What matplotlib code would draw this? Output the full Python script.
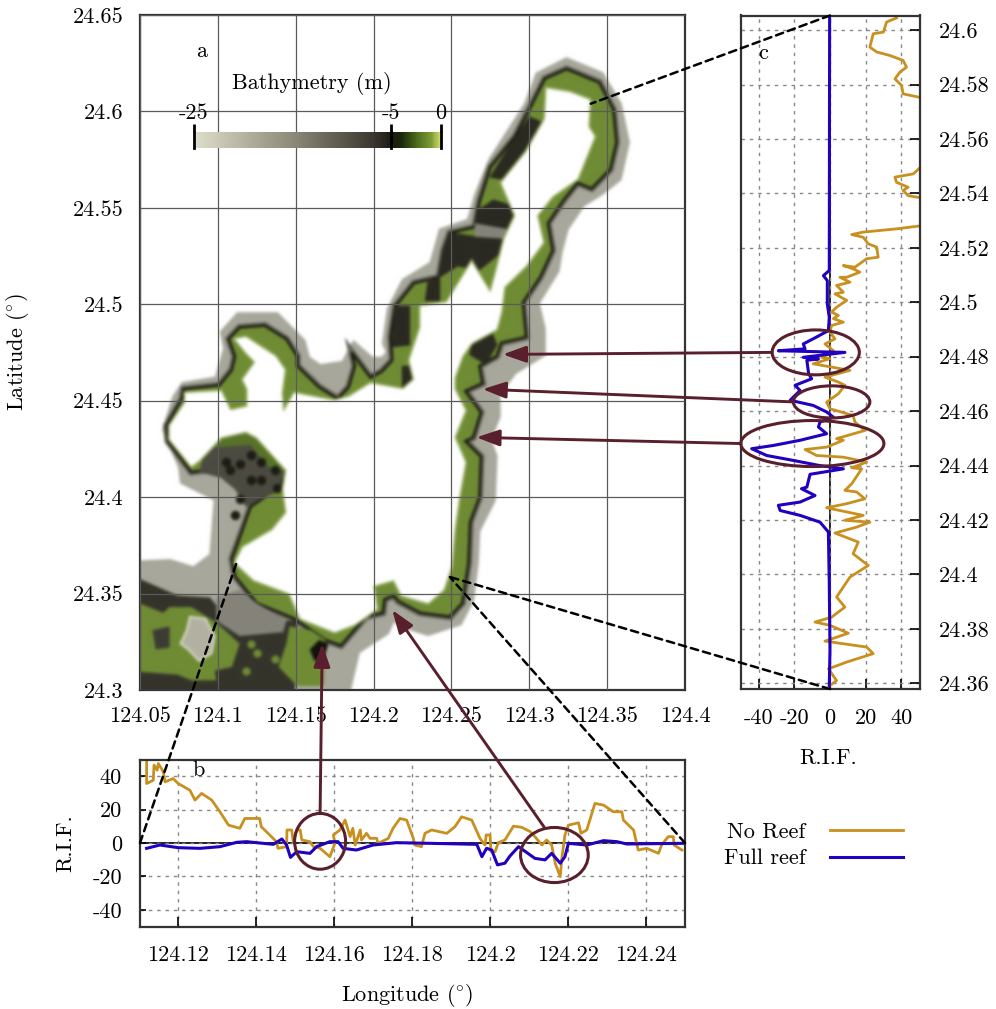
import matplotlib
matplotlib.use("Agg")
import matplotlib.pyplot as plt
import numpy as np
from matplotlib.backends.backend_agg import FigureCanvasAgg
from matplotlib.colors import LinearSegmentedColormap
from matplotlib.figure import Figure
from matplotlib.patches import ConnectionPatch, Ellipse

plt.rcParams['font.family'] = ['cmr10', 'DejaVu Serif']
plt.rcParams['mathtext.fontset'] = 'cm'
plt.rcParams['axes.unicode_minus'] = False

# Map outlines (lon, lat)
halo_lon = [124.324, 124.345, 124.356, 124.361, 124.356, 124.345, 124.333, 124.322, 124.318, 124.316, 124.303, 124.307, 124.307, 124.289, 124.278, 124.278, 124.272, 124.276, 124.275, 124.265, 124.264, 124.261, 124.254, 124.235, 124.219, 124.212, 124.207, 124.188, 124.179, 124.040, 124.040, 124.069, 124.085, 124.098, 124.101, 124.079, 124.078, 124.068, 124.074, 124.079, 124.101, 124.107, 124.105, 124.114, 124.137, 124.153, 124.156, 124.165, 124.182, 124.188, 124.198, 124.207, 124.212, 124.209, 124.212, 124.221, 124.239, 124.245, 124.263, 124.268, 124.277, 124.300, 124.307]
halo_lat = [24.625, 24.618, 24.603, 24.584, 24.566, 24.559, 24.553, 24.540, 24.528, 24.518, 24.501, 24.487, 24.475, 24.466, 24.454, 24.442, 24.430, 24.421, 24.399, 24.383, 24.366, 24.347, 24.336, 24.331, 24.335, 24.340, 24.331, 24.321, 24.290, 24.290, 24.364, 24.365, 24.361, 24.369, 24.400, 24.409, 24.416, 24.435, 24.451, 24.457, 24.460, 24.477, 24.485, 24.493, 24.493, 24.480, 24.471, 24.466, 24.468, 24.477, 24.470, 24.470, 24.475, 24.480, 24.497, 24.511, 24.520, 24.537, 24.542, 24.556, 24.574, 24.603, 24.618]

reef_lon = [124.324, 124.345, 124.354, 124.356, 124.352, 124.340, 124.331, 124.322, 124.312, 124.315, 124.307, 124.296, 124.298, 124.282, 124.279, 124.268, 124.270, 124.259, 124.269, 124.264, 124.259, 124.269, 124.268, 124.262, 124.261, 124.257, 124.249, 124.230, 124.216, 124.213, 124.207, 124.206, 124.195, 124.179, 124.169, 124.149, 124.125, 124.111, 124.109, 124.114, 124.121, 124.130, 124.121, 124.083, 124.068, 124.067, 124.077, 124.078, 124.101, 124.109, 124.111, 124.107, 124.114, 124.130, 124.144, 124.151, 124.151, 124.165, 124.177, 124.184, 124.188, 124.186, 124.198, 124.205, 124.212, 124.211, 124.214, 124.226, 124.242, 124.245, 124.249, 124.265, 124.268, 124.275, 124.291, 124.300, 124.310]
reef_lat = [24.622, 24.615, 24.601, 24.584, 24.570, 24.560, 24.563, 24.554, 24.542, 24.528, 24.514, 24.501, 24.483, 24.480, 24.473, 24.468, 24.459, 24.455, 24.444, 24.431, 24.429, 24.421, 24.400, 24.387, 24.366, 24.345, 24.338, 24.340, 24.346, 24.349, 24.347, 24.340, 24.338, 24.323, 24.326, 24.337, 24.345, 24.359, 24.368, 24.379, 24.395, 24.400, 24.417, 24.413, 24.429, 24.437, 24.451, 24.456, 24.458, 24.466, 24.473, 24.482, 24.488, 24.489, 24.482, 24.473, 24.468, 24.457, 24.451, 24.457, 24.468, 24.475, 24.462, 24.465, 24.471, 24.483, 24.499, 24.511, 24.514, 24.528, 24.537, 24.540, 24.553, 24.571, 24.587, 24.601, 24.617]

land_lon = [124.311, 124.326, 124.339, 124.338, 124.342, 124.336, 124.331, 124.315, 124.305, 124.309, 124.298, 124.284, 124.282, 124.279, 124.263, 124.257, 124.252, 124.252, 124.259, 124.252, 124.259, 124.255, 124.252, 124.250, 124.245, 124.235, 124.218, 124.213, 124.200, 124.202, 124.188, 124.175, 124.153, 124.146, 124.123, 124.111, 124.116, 124.135, 124.144, 124.142, 124.144, 124.125, 124.118, 124.102, 124.088, 124.083, 124.069, 124.069, 124.079, 124.079, 124.102, 124.108, 124.119, 124.119, 124.116, 124.124, 124.118, 124.111, 124.118, 124.137, 124.143, 124.141, 124.142, 124.149, 124.175, 124.184, 124.198, 124.219, 124.226, 124.223, 124.230, 124.230, 124.247, 124.263, 124.275, 124.279, 124.284, 124.291, 124.282, 124.298, 124.310]
land_lat = [24.612, 24.610, 24.606, 24.592, 24.587, 24.575, 24.565, 24.556, 24.546, 24.532, 24.520, 24.509, 24.496, 24.487, 24.480, 24.473, 24.462, 24.456, 24.445, 24.431, 24.418, 24.400, 24.383, 24.364, 24.352, 24.345, 24.349, 24.357, 24.354, 24.342, 24.334, 24.330, 24.337, 24.350, 24.357, 24.366, 24.374, 24.383, 24.392, 24.404, 24.414, 24.431, 24.434, 24.431, 24.419, 24.416, 24.430, 24.437, 24.449, 24.454, 24.455, 24.445, 24.447, 24.456, 24.461, 24.470, 24.475, 24.482, 24.483, 24.473, 24.466, 24.454, 24.444, 24.454, 24.450, 24.452, 24.459, 24.456, 24.461, 24.471, 24.488, 24.499, 24.501, 24.522, 24.506, 24.518, 24.534, 24.546, 24.563, 24.579, 24.596]

# Deep patches on the reef
deep_patches = [
    ([124.300, 124.309, 124.300, 124.291, 124.282, 124.275, 124.286], [24.597, 24.594, 24.584, 24.571, 24.565, 24.566, 24.580]),
    ([124.268, 124.277, 124.289, 124.293, 124.286, 124.275, 124.265], [24.549, 24.554, 24.551, 24.542, 24.539, 24.540, 24.542]),
    ([124.249, 124.265, 124.284, 124.282, 124.268, 124.254, 124.242, 124.245], [24.537, 24.535, 24.534, 24.527, 24.518, 24.520, 24.514, 24.528]),
    ([124.235, 124.242, 124.242, 124.233], [24.513, 24.513, 24.502, 24.502]),
    ([124.214, 124.223, 124.223, 124.212], [24.499, 24.499, 24.479, 24.478]),
    ([124.218, 124.225, 124.225, 124.218], [24.468, 24.468, 24.456, 24.456]),
    ([124.263, 124.275, 124.279, 124.272, 124.262], [24.480, 24.487, 24.479, 24.469, 24.474]),
]
shallow_gap_lon = [124.265, 124.286, 124.284, 124.265]
shallow_gap_lat = [24.542, 24.539, 24.534, 24.535]

tongue_lon = [124.088, 124.092, 124.102, 124.123, 124.132, 124.144, 124.143, 124.130, 124.118, 124.111, 124.102]
tongue_lat = [24.413, 24.426, 24.431, 24.433, 24.421, 24.413, 24.404, 24.400, 24.395, 24.404, 24.410]
rim_lon = [124.092, 124.102, 124.123, 124.144, 124.144, 124.132, 124.121, 124.102]
rim_lat = [24.426, 24.431, 24.433, 24.414, 24.413, 24.416, 24.427, 24.426]
blob_lon = [124.121, 124.128, 124.114, 124.108, 124.137, 124.128, 124.143, 124.121, 124.105, 124.114, 124.111, 124.138]
blob_lat = [24.422, 24.418, 24.417, 24.414, 24.414, 24.409, 24.408, 24.409, 24.418, 24.399, 24.391, 24.405]

sw_dark_lon = [124.040, 124.060, 124.074, 124.095, 124.105, 124.125, 124.142, 124.151, 124.149, 124.040]
sw_dark_lat = [24.361, 24.354, 24.349, 24.348, 24.338, 24.340, 24.336, 24.336, 24.290, 24.290]
sw_mid_lon = [124.099, 124.114, 124.125, 124.144, 124.142, 124.114, 124.099]
sw_mid_lat = [24.348, 24.352, 24.345, 24.336, 24.330, 24.328, 24.336]
sw_green_lon = [124.040, 124.065, 124.069, 124.083, 124.099, 124.114, 124.109, 124.098, 124.099, 124.083, 124.074, 124.040]
sw_green_lat = [24.348, 24.340, 24.343, 24.343, 24.335, 24.324, 24.312, 24.310, 24.305, 24.305, 24.308, 24.310]
sw_hole_lon = [124.058, 124.069, 124.069, 124.060]
sw_hole_lat = [24.331, 24.333, 24.322, 24.321]
islet_lon = [124.082, 124.092, 124.098, 124.096, 124.088, 124.081, 124.076, 124.080]
islet_lat = [24.338, 24.337, 24.328, 24.319, 24.315, 24.321, 24.324, 24.331]
se_green_lon = [124.146, 124.160, 124.169, 124.168, 124.151, 124.139, 124.144]
se_green_lat = [24.333, 24.331, 24.326, 24.302, 24.302, 24.312, 24.324]
se_hole_lon = [124.159, 124.165, 124.171, 124.168, 124.162]
se_hole_lat = [24.321, 24.326, 24.324, 24.316, 24.315]
speck_lon = [124.125, 124.137, 124.121, 124.118]
speck_lat = [24.319, 24.316, 24.324, 24.310]

# Colour bar
cbar_depths = [-25, -15, -7, -5, -4, -2.5, -1, 0]
cbar_colors = ['#dedecb', '#8b8978', '#3c3930', '#1c1a14', '#1a2a0a', '#4a6a1c', '#7d9c35', '#d4e36d']
cbar_ticks = [-25, -5, 0]

# Panel b: R.I.F. along longitude
b_no_lon = [124.1119, 124.1119, 124.1136, 124.1138, 124.1146, 124.1149, 124.1162, 124.1166, 124.1187, 124.120, 124.123, 124.1243, 124.126, 124.1286, 124.1307, 124.1329, 124.1358, 124.1371, 124.1409, 124.1413, 124.1452, 124.1456, 124.1478, 124.1479, 124.1491, 124.1495, 124.1504, 124.1513, 124.1517, 124.1538, 124.1547, 124.1564, 124.1589, 124.1602, 124.1598, 124.1615, 124.1628, 124.1641, 124.1648, 124.1654, 124.1667, 124.167, 124.1683, 124.1692, 124.1709, 124.1713, 124.1739, 124.1751, 124.1769, 124.1786, 124.1803, 124.1807, 124.1824, 124.1833, 124.185, 124.1889, 124.191, 124.1927, 124.1953, 124.1974, 124.1987, 124.199, 124.200, 124.2002, 124.2013, 124.2021, 124.2038, 124.206, 124.2081, 124.2103, 124.2115, 124.2133, 124.2145, 124.2158, 124.2167, 124.218, 124.2184, 124.2192, 124.2201, 124.2227, 124.2233, 124.2248, 124.2269, 124.2291, 124.2316, 124.2338, 124.2342, 124.2368, 124.238, 124.2402, 124.2432, 124.244, 124.2457, 124.247, 124.2472, 124.2492]
b_no_rif = [52, 35.6, 37.6, 46.6, 43.6, 47.6, 42.6, 36.6, 38.6, 35.6, 31.6, 25.7, 29.7, 25.7, 18.7, 10.7, 8.8, 14.7, 14.7, 9.8, 0.8, -3.2, -2.2, 7.8, 7.8, 0.8, 7.8, 7.8, 1.8, 0.8, -2.2, -3.2, -8.2, -0.2, 4.8, 7.8, 13.7, 3.8, 8.8, -1.2, 7.8, 1.8, 5.8, 2.8, 2.8, -0.2, 2.8, 8.8, 14.7, 13.7, 2.8, -1.2, -2.2, 5.8, 7.8, 5.8, 9.8, 15.7, 13.7, 2.8, -1.2, 4.8, 4.8, -4.2, -5.2, 0.2, 1.8, 10.1, 9.4, 6.8, 3.8, -1.2, 1.8, -1.2, -12.1, -20.1, -9.2, 4.8, 10.7, 12.1, 5.8, 7.8, 23.7, 22.7, 18.7, 18.7, 13.7, 7.8, -4.2, -3.2, -6.2, -1.2, 3.8, 3.8, -1.2, -4.2]
b_full_lon = [124.1119, 124.1153, 124.120, 124.1256, 124.1307, 124.135, 124.1375, 124.1444, 124.1466, 124.1478, 124.1488, 124.1504, 124.1538, 124.1555, 124.1589, 124.161, 124.1623, 124.1657, 124.170, 124.176, 124.1846, 124.1966, 124.1979, 124.1991, 124.2004, 124.2019, 124.2038, 124.2051, 124.2073, 124.2115, 124.2141, 124.2158, 124.218, 124.2192, 124.2201, 124.2248, 124.2291, 124.2325, 124.2351, 124.2496]
b_full_rif = [-3.2, -1.2, -2.8, -3.2, -2.2, 0.4, 0.8, -0.8, 2.4, -1.2, -8.6, -5.2, -6.2, -2.2, 0.8, 0.8, -3.2, -4.2, -1.2, 0.2, -0.2, -0.8, -8.2, -3.2, -4.2, -13.1, -12.1, -7.8, -2.2, -9.2, -10.1, -6.2, -12.1, -8.2, -0.2, -1.2, 1.4, 0.8, -0.6, -0.2]

# Panel c: R.I.F. along latitude
c_no_rif = [37.4, 31.8, 30, 24.3, 22.4, 26.2, 33.7, 41.1, 43, 39.3, 36.5, 40.2, 41.1, 52, 52, 46.8, 36.5, 37.4, 43.9, 41.1, 43.9, 52, 52, 37.4, 18.7, 12.2, 18.7, 21.5, 26.2, 27.1, 20.6, 14, 7.5, 13, 16.8, 9.4, 5.6, 11.2, 3.7, 7.5, 2.8, 9.4, 3.7, 0.9, 4.7, 1.9, 7.5, 0.9, 0, 2.8, -2.8, 1.9, -4.7, 0, -9.4, 11.2, -2.8, 4.7, 8.4, 4.7, -1.9, 0, 13, 14, 19.6, 3.7, 7.5, -1.9, -14, -7.5, 7.5, 20.6, 12.2, 17.8, 12.2, 8.4, 15, 19.6, 9.4, -1.9, 18.7, 8.4, 22.4, 15, 2.8, 15.9, 13, 21.5, 11.2, 3.7, 8.4, 0.9, -8.4, 0, 10.3, -2.8, 20.6, 24.3, 9.4, -0.9, 3.7, 0]
c_no_lat = [24.6045, 24.603, 24.5993, 24.5987, 24.5938, 24.592, 24.5907, 24.5889, 24.5864, 24.5846, 24.5821, 24.5797, 24.5766, 24.5751, 24.5503, 24.5472, 24.546, 24.5441, 24.5423, 24.5411, 24.5392, 24.5383, 24.5282, 24.527, 24.5258, 24.5249, 24.5239, 24.5215, 24.5203, 24.5166, 24.516, 24.5129, 24.5135, 24.5123, 24.5111, 24.5092, 24.5092, 24.5074, 24.5062, 24.5037, 24.5031, 24.5007, 24.4982, 24.4964, 24.4952, 24.494, 24.4927, 24.4915, 24.489, 24.4866, 24.4847, 24.4822, 24.4798, 24.4793, 24.4774, 24.475, 24.4725, 24.4707, 24.4695, 24.4664, 24.4633, 24.4609, 24.4584, 24.456, 24.4529, 24.4499, 24.4493, 24.4468, 24.4459, 24.4437, 24.4431, 24.4413, 24.4392, 24.4388, 24.4333, 24.4309, 24.4303, 24.4278, 24.426, 24.4245, 24.4217, 24.4199, 24.4192, 24.4174, 24.4152, 24.4119, 24.4076, 24.4033, 24.399, 24.3917, 24.388, 24.3843, 24.3825, 24.3813, 24.3784, 24.3755, 24.3733, 24.3709, 24.3678, 24.3653, 24.361, 24.3592]
c_full_rif = [-0.2, -0.4, -3.7, -1.5, -1.5, -0.4, -0.9, -9.4, -15, -14, -29, 8.4, -15, -6.5, -13, -12, -10.3, -19.6, -16.8, -22.4, -9.4, -1.9, 1.9, -5.6, -6.5, -1.9, -16.8, -31.8, -44, -35.5, -20.6, -6.5, 7.5, -11.2, -13, -16, -8.4, -16.8, -29, -28, -16.8, -5.6, -0.9, -0.4, 0, -0.4]
c_full_lat = [24.6054, 24.5117, 24.5098, 24.508, 24.4994, 24.4945, 24.4896, 24.4866, 24.4847, 24.4829, 24.4822, 24.4816, 24.4798, 24.4792, 24.4787, 24.4738, 24.4719, 24.4695, 24.4676, 24.464, 24.4621, 24.4597, 24.4578, 24.456, 24.4542, 24.4517, 24.4493, 24.4474, 24.4462, 24.4437, 24.4419, 24.4401, 24.4388, 24.4368, 24.4321, 24.4315, 24.429, 24.4266, 24.4254, 24.4235, 24.4217, 24.4192, 24.4156, 24.3966, 24.3721, 24.3592]

map_xticks = [124.05, 124.1, 124.15, 124.2, 124.25, 124.3, 124.35, 124.4]
map_yticks = [24.3, 24.35, 24.4, 24.45, 24.5, 24.55, 24.6, 24.65]
b_xticks = [124.12, 124.14, 124.16, 124.18, 124.2, 124.22, 124.24]
rif_ticks = [-40, -20, 0, 20, 40]
c_yticks = [24.36, 24.38, 24.4, 24.42, 24.44, 24.46, 24.48, 24.5, 24.52, 24.54, 24.56, 24.58, 24.6]

ORANGE = '#c8901e'
BLUE = '#2200c0'
MAROON = '#5a1f2c'
GREEN = '#6f8c35'
FS = 16
W, H = 996, 1009


def frac(left, top, right, bottom):
    return [left / W, 1 - bottom / H, (right - left) / W, (bottom - top) / H]


def soften(rgba, passes=2):
    # small binomial blur, the source map is a soft raster
    taps = [(-2, 1 / 16), (-1, 4 / 16), (0, 6 / 16), (1, 4 / 16), (2, 1 / 16)]
    out = rgba.astype(float)
    for _ in range(passes):
        for axis in (0, 1):
            pad = [(2, 2) if i == axis else (0, 0) for i in range(3)]
            wide = np.pad(out, pad, mode='edge')
            out = sum(k * np.roll(wide, o, axis=axis) for o, k in taps)
            out = out[2:-2, :] if axis == 0 else out[:, 2:-2]
    return out


def draw_map():
    # polygons on their own canvas, same lon/lat frame as the map axes
    mf = Figure(figsize=(5.45, 6.75), dpi=100)
    canvas = FigureCanvasAgg(mf)
    m = mf.add_axes([0, 0, 1, 1])
    m.fill(halo_lon, halo_lat, facecolor='#a8a79b', edgecolor='#a8a79b', lw=8)
    m.fill(reef_lon, reef_lat, facecolor=GREEN, edgecolor='#66655a', lw=5)
    m.fill(reef_lon, reef_lat, facecolor=GREEN, edgecolor='#17160f', lw=1.8)
    for plon, plat in deep_patches:
        m.fill(plon, plat, color='#2b2a22', lw=1)
    m.fill(shallow_gap_lon, shallow_gap_lat, color='#85847a', lw=0)
    m.fill(tongue_lon, tongue_lat, color='#4c4b41', lw=0)
    m.fill(rim_lon, rim_lat, color='#58722a', lw=0)
    m.scatter(blob_lon, blob_lat, s=45, color='#1d1c15', lw=0, zorder=3)
    m.fill(sw_dark_lon, sw_dark_lat, color='#35342b', lw=0)
    m.fill(sw_mid_lon, sw_mid_lat, color='#85847a', lw=0)
    m.fill(sw_green_lon, sw_green_lat, color=GREEN, lw=0)
    m.fill(sw_hole_lon, sw_hole_lat, color='#3d3c33', lw=0)
    m.fill(islet_lon, islet_lat, facecolor='#b3b2a2', edgecolor='#f2f2ea', lw=1)
    m.fill(se_green_lon, se_green_lat, color=GREEN, lw=0)
    m.fill(se_hole_lon, se_hole_lat, color='#14130d', lw=0)
    m.scatter(speck_lon, speck_lat, s=35, color=GREEN, lw=0, zorder=3)
    m.fill(land_lon, land_lat, facecolor='white', edgecolor='#93aa5c', lw=2.5, zorder=4)
    m.fill(land_lon, land_lat, facecolor='white', lw=0, zorder=5)
    m.set_xlim(124.05, 124.4)
    m.set_ylim(24.3, 24.65)
    m.axis('off')
    canvas.draw()
    return soften(np.asarray(canvas.buffer_rgba())[:, :, :3] / 255.0)


fig = plt.figure(figsize=(W / 100, H / 100), dpi=100)
ax = fig.add_axes(frac(140, 15, 685, 690))
axb = fig.add_axes(frac(140, 759.5, 685, 926.5))
axc = fig.add_axes(frac(741, 15.5, 919.5, 689))

# Map
ax.imshow(draw_map(), extent=(124.05, 124.4, 24.3, 24.65), aspect='auto', zorder=1)
ax.set_xlim(124.05, 124.4)
ax.set_ylim(24.3, 24.65)
ax.set_xticks(map_xticks, ['124.05', '124.1', '124.15', '124.2', '124.25', '124.3', '124.35', '124.4'])
ax.set_yticks(map_yticks, ['24.3', '24.35', '24.4', '24.45', '24.5', '24.55', '24.6', '24.65'])
ax.grid(True, color='#5a5a5a', lw=0.9)
ax.set_axisbelow(False)
ax.tick_params(length=0, labelsize=FS, pad=12)
ax.set_ylabel(r'Latitude ($^{\circ}$)', fontsize=FS)
ax.yaxis.set_label_coords(-0.2, 0.5)
ax.text(124.0895, 24.631, 'a', fontsize=FS, ha='center', va='center')
ax.text(124.1605, 24.6145, 'Bathymetry (m)', fontsize=FS, ha='center', va='center')

# Bathymetry colour bar
cax = ax.inset_axes([124.0844, 24.5808, 0.1588, 0.0083], transform=ax.transData, zorder=5)
nodes = [(d - cbar_depths[0]) / (cbar_depths[-1] - cbar_depths[0]) for d in cbar_depths]
cmap = LinearSegmentedColormap.from_list('bathy', list(zip(nodes, cbar_colors)))
cax.imshow(np.linspace(0, 1, 300)[None, :], cmap=cmap, aspect='auto', extent=(-25, 0, 0, 1))
cax.set_xlim(-25, 0)
cax.set_yticks([])
cax.xaxis.tick_top()
cax.set_xticks(cbar_ticks, ['-25', '-5', '0'])
cax.tick_params(axis='x', length=6, width=2, labelsize=FS, pad=1, color='black')
for d in cbar_ticks:
    cax.axvline(d, color='black', lw=2, clip_on=False)
for side in cax.spines.values():
    side.set_visible(False)
cax.patch.set_alpha(0)

# Panel b
axb.axhline(0, color='#222222', lw=1.4, zorder=1.5)
no_line, = axb.plot(b_no_lon, b_no_rif, color=ORANGE, lw=2, label='No Reef', zorder=2)
full_line, = axb.plot(b_full_lon, b_full_rif, color=BLUE, lw=2.2, label='Full reef', zorder=2.2)
axb.set_xlim(124.1102, 124.25)
axb.set_ylim(-50, 50)
axb.set_xticks(b_xticks, ['124.12', '124.14', '124.16', '124.18', '124.2', '124.22', '124.24'])
axb.set_yticks(rif_ticks, ['-40', '-20', '0', '20', '40'])
axb.grid(True, color='#888888', ls=(0, (2.5, 3.5)), lw=1)
axb.tick_params(direction='in', length=7, width=1.2, labelsize=FS, pad=14)
axb.tick_params(axis='y', length=4, pad=13)
axb.set_xlabel(r'Longitude ($^{\circ}$)', fontsize=FS)
axb.xaxis.set_label_coords(0.49, -0.335)
axb.set_ylabel('R.I.F.', fontsize=FS)
axb.yaxis.set_label_coords(-0.119, 0.5)
axb.text(124.1252, 43.5, 'b', fontsize=FS, ha='center', va='center')

# Panel c
axc.axvline(0, color='#222222', lw=1.4, zorder=1.5)
axc.plot(c_no_rif, c_no_lat, color=ORANGE, lw=2, zorder=2)
axc.plot(c_full_rif, c_full_lat, color=BLUE, lw=2.2, zorder=2.2)
axc.set_xlim(-50, 50.3)
axc.set_ylim(24.3579, 24.6054)
axc.set_xticks(rif_ticks, ['-40', '-20', '0', '20', '40'])
axc.set_yticks(c_yticks, ['24.36', '24.38', '24.4', '24.42', '24.44', '24.46', '24.48', '24.5', '24.52', '24.54', '24.56', '24.58', '24.6'])
axc.yaxis.tick_right()
axc.grid(True, color='#888888', ls=(0, (2.5, 3.5)), lw=1)
axc.tick_params(direction='in', length=7, width=1.2, labelsize=FS, pad=14)
axc.set_xlabel('R.I.F.', fontsize=FS)
axc.xaxis.set_label_coords(0.49, -0.089)
axc.text(-37.5, 24.5917, 'c', fontsize=FS, ha='center', va='center')

for a in (ax, axb, axc):
    for side in a.spines.values():
        side.set_linewidth(1.6)
        side.set_color('#333333')

# Circles on the two profiles
for cx, cy, w, h in [(-8, 24.4816, 49, 0.0165), (0.9, 24.4634, 43, 0.0118), (-9.9, 24.4481, 80.4, 0.0169)]:
    axc.add_patch(Ellipse((cx, cy), w, h, fill=False, edgecolor=MAROON, lw=2.2, clip_on=False, zorder=4))
for cx, cy, w, h in [(124.1564, 1, 0.01308, 33.4), (124.2165, -7.2, 0.01736, 33)]:
    axb.add_patch(Ellipse((cx, cy), w, h, fill=False, edgecolor=MAROON, lw=2.2, clip_on=False, zorder=4))

# Arrows from the circles to the coast
arrow_style = '-|>,head_length=0.7,head_width=0.25'
for tail, tail_ax, tip in [((-32.5, 24.4816), axc, (124.283, 24.474)),
                           ((-20.6, 24.4634), axc, (124.270, 24.456)),
                           ((-50, 24.4481), axc, (124.266, 24.431)),
                           ((124.1564, 17.7), axb, (124.167, 24.324)),
                           ((124.2139, 9.4), axb, (124.212, 24.3415))]:
    fig.add_artist(ConnectionPatch(tail, tip, 'data', 'data', axesA=tail_ax, axesB=ax,
                                   arrowstyle=arrow_style, mutation_scale=20, color=MAROON, lw=2.1,
                                   shrinkA=0, shrinkB=0))

# Dashed zoom lines
for start, start_ax, end in [((0, 24.6054), axc, (124.3395, 24.604)),
                             ((0, 24.3579), axc, (124.249, 24.3586)),
                             ((124.25, 0), axb, (124.249, 24.3586)),
                             ((124.1102, 0), axb, (124.112, 24.3659))]:
    fig.add_artist(ConnectionPatch(start, end, 'data', 'data', axesA=start_ax, axesB=ax,
                                   color='black', lw=1.8, ls=(0, (3, 2))))

fig.legend(handles=[no_line, full_line], loc='center left', bbox_to_anchor=(724 / W, 1 - 845.5 / H),
           frameon=False, markerfirst=False, fontsize=FS, handlelength=3.3, labelspacing=0.3,
           borderpad=0, borderaxespad=0, handletextpad=1.1)

fig.savefig('out.png', dpi=100)
